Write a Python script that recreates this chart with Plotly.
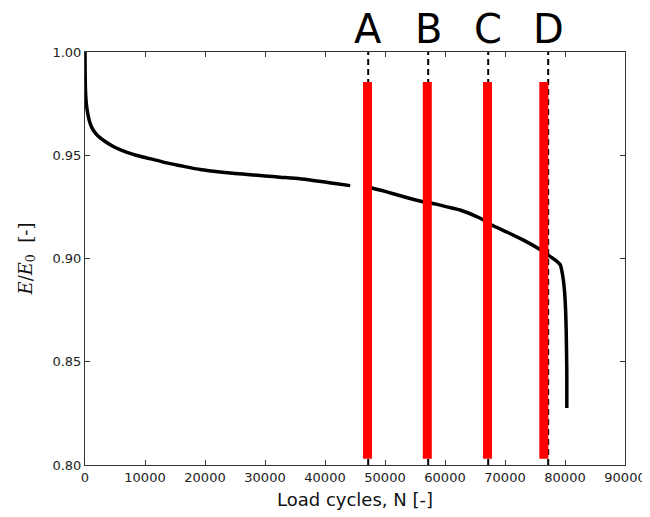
import plotly.graph_objects as go

# Stiffness degradation curve; None marks the gap in the record
cycles = [0, 30, 100, 200, 350, 550, 833, 1200, 1800, 2500, 3300, 4500, 5833, 7000, 8500,
          10300, 12000, 13800, 15800, 17500, 19200, 21000, 22500, 25000, 27500, 30000,
          32500, 35800, 38000, 40000, 42000, 44200,
          None,
          47500, 50000, 53000, 56300, 57800, 58700, 60300, 62500, 65800, 67800, 70300,
          73000, 75700, 77500, 78500, 79200, 79600, 79900, 80100, 80200, 80300, 80300]
stiffness = [1.000, 0.988, 0.980, 0.9755, 0.9720, 0.9688, 0.9656, 0.9630, 0.9605, 0.9585, 0.9568,
             0.9546, 0.9527, 0.9514, 0.9500,
             0.9487, 0.9475, 0.9462, 0.9450, 0.9440, 0.9431, 0.9424, 0.9419, 0.9412, 0.9406, 0.9400,
             0.9394, 0.9386, 0.9378, 0.9370, 0.9362, 0.9353,
             None,
             0.9344, 0.9325, 0.9300, 0.9275, 0.9268, 0.9262, 0.9250, 0.9235, 0.9196, 0.9162, 0.9128,
             0.9090, 0.9046, 0.9010, 0.8990, 0.8970, 0.8920, 0.8850, 0.8750, 0.8650, 0.8450, 0.8276]

# Inspection states
state_labels = ["A", "B", "C", "D"]
state_cycles = [47200, 57200, 67200, 77200]      # dashed marker lines
band_cycles = [47080, 57050, 67080, 76470]       # red bands
band_bottom = 0.803
band_top = 0.9855

x_ticks = [0, 10000, 20000, 30000, 40000, 50000, 60000, 70000, 80000, 90000]
y_ticks = [0.80, 0.85, 0.90, 0.95, 1.00]

fig = go.Figure()

fig.add_trace(go.Scatter(x=cycles, y=stiffness, mode="lines",
                         line=dict(color="black", width=3.5, shape="spline", smoothing=0.6),
                         connectgaps=False, showlegend=False, hoverinfo="skip"))

for xc in state_cycles:
    fig.add_trace(go.Scatter(x=[xc, xc], y=[0.80, 1.00], mode="lines",
                             line=dict(color="black", width=2, dash="6px,4px"),
                             showlegend=False, hoverinfo="skip", cliponaxis=False))

for xb in band_cycles:
    fig.add_trace(go.Scatter(x=[xb, xb], y=[band_bottom, band_top], mode="lines",
                             line=dict(color="#ff0000", width=9),
                             showlegend=False, hoverinfo="skip"))

for lab, xc in zip(state_labels, state_cycles):
    fig.add_annotation(x=xc, y=1.0, xref="x", yref="y", text=lab, showarrow=False,
                       yanchor="bottom", yshift=-2,
                       font=dict(family="DejaVu Sans", size=40, color="black"))

axis_common = dict(showgrid=False, zeroline=False, showline=True, linecolor="#333333",
                   linewidth=1, mirror="allticks", ticks="inside", ticklen=5, automargin=False,
                   tickcolor="#333333", tickfont=dict(family="DejaVu Sans", size=13, color="#222222"))

fig.update_xaxes(range=[0, 90000], tickvals=x_ticks, ticktext=[str(v) for v in x_ticks],
                 title=dict(text="Load cycles, N [-]", font=dict(family="DejaVu Sans", size=18, color="#111111"),
                            standoff=9),
                 **axis_common)
fig.update_yaxes(range=[0.80, 1.00], tickvals=y_ticks, ticktext=[f"{v:.2f}" for v in y_ticks],
                 title=dict(text="<i>E</i>/<i>E</i><sub>0</sub>  [-]",
                            font=dict(family="DejaVu Serif", size=18, color="#111111"), standoff=15),
                 **axis_common)

# the page body adds an 8px offset, so the figure is 8px smaller on each axis
fig.update_layout(width=642, height=509, margin=dict(l=77, r=25, t=44, b=52),
                  plot_bgcolor="white", paper_bgcolor="white")

fig.write_html("out.html")
